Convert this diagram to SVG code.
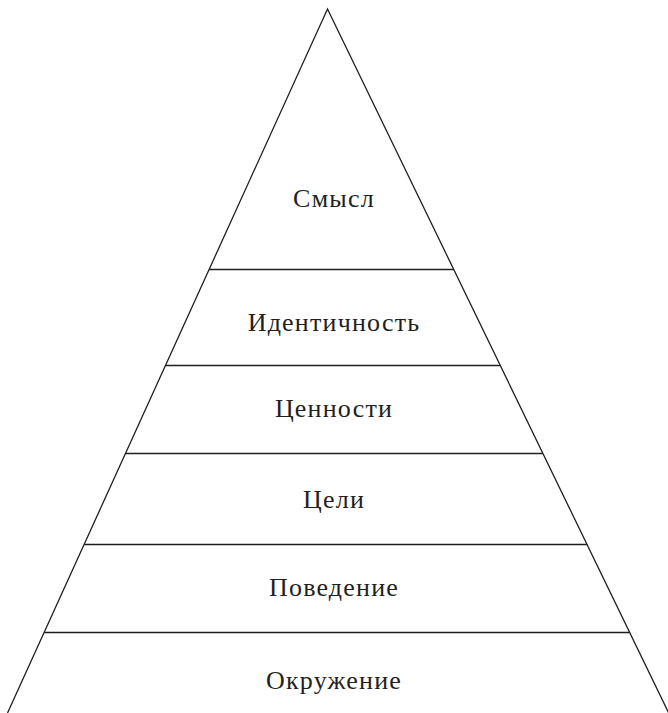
<svg xmlns="http://www.w3.org/2000/svg" width="668" height="713" viewBox="0 0 668 713">
<style>
.ln{stroke:#231f20;stroke-width:1.3;fill:none}
.t{font-family:"Liberation Serif","DejaVu Serif",serif;font-size:26px;letter-spacing:1.2px;fill:#231f20;text-anchor:middle}
</style>
<rect width="668" height="713" fill="#fff"/>
<g id="connectors">
<polyline class="ln" points="7.5,713 327.5,9 668.7,713"/>
<line class="ln" x1="209.1" y1="269.5" x2="453.8" y2="269.5"/>
<line class="ln" x1="165.5" y1="365.5" x2="500.2" y2="365.5"/>
<line class="ln" x1="125.5" y1="453.5" x2="542.9" y2="453.5"/>
<line class="ln" x1="84.1" y1="544.5" x2="587.1" y2="544.5"/>
<line class="ln" x1="44.1" y1="632.5" x2="629.7" y2="632.5"/>
</g>
<g id="n1"><text class="t" x="334" y="207">Смысл</text></g>
<g id="n2"><text class="t" x="334" y="331">Идентичность</text></g>
<g id="n3"><text class="t" x="334" y="417">Ценности</text></g>
<g id="n4"><text class="t" x="334" y="508">Цели</text></g>
<g id="n5"><text class="t" x="334" y="596">Поведение</text></g>
<g id="n6"><text class="t" x="334" y="689">Окружение</text></g>
</svg>
